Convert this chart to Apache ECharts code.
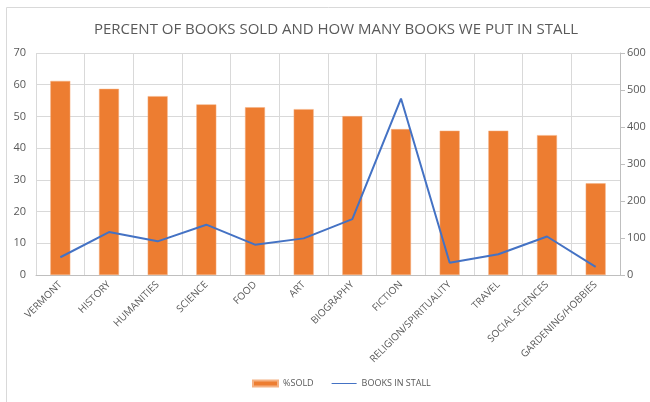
<!DOCTYPE html>
<html>
<head>
<meta charset="utf-8">
<script src="https://cdn.jsdelivr.net/npm/echarts@6/dist/echarts.min.js"></script>
<style>
  html, body { margin: 0; padding: 0; background: #fff; }
  #chart { width: 650px; height: 402px; }
</style>
</head>
<body>
<div id="chart"></div>
<script>
const categories = ['VERMONT', 'HISTORY', 'HUMANITIES', 'SCIENCE', 'FOOD', 'ART', 'BIOGRAPHY',
  'FICTION', 'RELIGION/SPIRITUALITY', 'TRAVEL', 'SOCIAL SCIENCES', 'GARDENING/HOBBIES']
const percentSold = [61.2, 58.7, 56.4, 53.8, 52.9, 52.3, 50.1, 46.0, 45.5, 45.5, 44.1, 28.9]
const booksInStall = [48, 116, 91, 136, 82, 99, 151, 477, 33, 56, 104, 22]
const leftTicks = [0, 70, 10]
const rightTicks = [0, 600, 100]

const gray = '#595959'
const gridGray = '#d9d9d9'
const font = 'Open Sans'

const chart = echarts.init(document.getElementById('chart'))
chart.setOption({
  animation: false,
  textStyle: { fontFamily: font },
  graphic: [
    {
      type: 'rect',
      shape: { x: 6.5, y: 7.5, width: 700, height: 450 },
      style: { fill: 'none', stroke: '#d9d9d9', lineWidth: 1 }
    }
  ],
  title: {
    text: 'PERCENT OF BOOKS SOLD AND HOW MANY BOOKS WE PUT IN STALL',
    left: 331,
    top: 17,
    textAlign: 'center',
    textStyle: { fontFamily: font, fontSize: 15, fontWeight: 'normal', color: gray }
  },
  legend: {
    bottom: 9,
    left: 247,
    itemWidth: 25,
    itemHeight: 6,
    itemGap: 18,
    textStyle: { fontFamily: font, fontSize: 9, color: gray },
    data: [
      { name: '%SOLD', icon: 'rect' },
      { name: 'BOOKS IN STALL', icon: 'path://M0,0H50V2H0Z' }
    ]
  },
  grid: { left: 36, right: 30, top: 53, bottom: 127 },
  xAxis: {
    type: 'category',
    data: categories,
    axisLine: { lineStyle: { color: '#bfbfbf' } },
    axisTick: { show: false },
    splitLine: { show: true, lineStyle: { color: gridGray } },
    axisLabel: { rotate: 45, fontSize: 10, color: gray, interval: 0, margin: 8 }
  },
  yAxis: [
    {
      type: 'value',
      min: leftTicks[0],
      max: leftTicks[1],
      interval: leftTicks[2],
      axisLine: { show: false },
      axisTick: { show: false },
      splitLine: { lineStyle: { color: gridGray } },
      axisLabel: { fontSize: 11, color: gray, margin: 10 }
    },
    {
      type: 'value',
      min: rightTicks[0],
      max: rightTicks[1],
      interval: rightTicks[2],
      axisLine: { show: true, lineStyle: { color: '#bfbfbf' } },
      axisTick: { show: true, length: 5, lineStyle: { color: '#bfbfbf' } },
      splitLine: { show: false },
      axisLabel: { fontSize: 11, color: gray, margin: 7 }
    }
  ],
  series: [
    {
      name: '%SOLD',
      type: 'bar',
      data: percentSold,
      barWidth: '41%',
      itemStyle: { color: '#ed7d31', borderColor: '#f4b183', borderWidth: 0.5 }
    },
    {
      name: 'BOOKS IN STALL',
      type: 'line',
      yAxisIndex: 1,
      data: booksInStall,
      symbol: 'none',
      lineStyle: { color: '#4472c4', width: 2 },
      itemStyle: { color: '#4472c4' }
    }
  ]
})
</script>
</body>
</html>
